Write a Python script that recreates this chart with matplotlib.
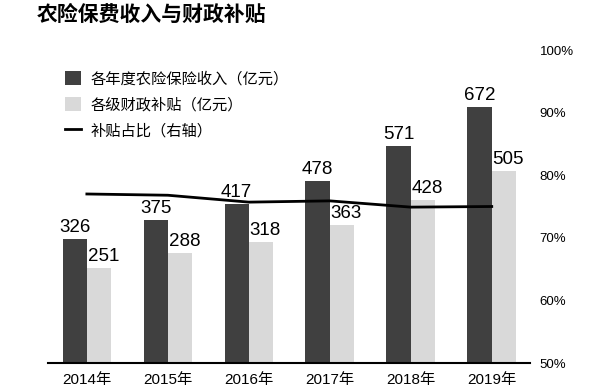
import matplotlib
matplotlib.use("Agg")
import matplotlib.pyplot as plt
import numpy as np

plt.rcParams['font.family'] = ['Liberation Sans', 'Noto Sans CJK SC']

years = ['2014年', '2015年', '2016年', '2017年', '2018年', '2019年']
premium = [326, 375, 417, 478, 571, 672]
subsidy = [251, 288, 318, 363, 428, 505]
ratio = [77.0, 76.8, 75.7, 75.9, 74.9, 75.0]

dark = '#404040'
light = '#d9d9d9'

fig = plt.figure(figsize=(6, 3.91), dpi=100)
ax = fig.add_axes([0.08, 0.0716, 0.803, 0.8005])
ax2 = ax.twinx()

x = np.arange(len(years))
w = 0.3
b1 = ax.bar(x - w / 2, premium, w, color=dark, label='各年度农险保险收入（亿元）')
b2 = ax.bar(x + w / 2, subsidy, w, color=light, label='各级财政补贴（亿元）')

for xi, v in zip(x, premium):
    ax.text(xi - w / 2, v + 8, str(v), ha='center', va='bottom', fontsize=13.5)
for xi, v in zip(x, subsidy):
    ax.text(xi + 0.01, v + 8, str(v), ha='left', va='bottom', fontsize=13.5)

ln, = ax2.plot(x, ratio, color='black', lw=2, label='补贴占比（右轴）')

ax.set_xlim(-0.48, 5.47)
ax.set_ylim(0, 823)
ax2.set_ylim(50, 100)
ax2.set_yticks([50, 60, 70, 80, 90, 100])
ax2.set_yticklabels(['50%', '60%', '70%', '80%', '90%', '100%'], fontsize=9.5)
ax2.tick_params(axis='y', length=0, pad=7)
for lbl in ax2.get_yticklabels():
    lbl.set_horizontalalignment('left')

ax.set_xticks(x)
ax.set_xticklabels(years, fontsize=11)
ax.tick_params(axis='x', length=0, pad=7)
ax.set_yticks([])

for a in (ax, ax2):
    for s in ['top', 'left', 'right', 'bottom']:
        a.spines[s].set_visible(False)
ax.spines['bottom'].set_visible(True)
ax.spines['bottom'].set_linewidth(1.5)
ax.spines['bottom'].set_color('black')

ax.legend([b1, b2, ln], [b1.get_label(), b2.get_label(), ln.get_label()],
          loc='upper left', bbox_to_anchor=(0.006, 0.976), frameon=False,
          fontsize=11, handlelength=1.1, handleheight=1.0, handletextpad=0.6,
          labelspacing=0.72)

fig.text(0.062, 0.962, '农险保费收入与财政补贴', fontsize=15, fontweight='bold',
         ha='left', va='center')

fig.savefig('out.png', dpi=100)
